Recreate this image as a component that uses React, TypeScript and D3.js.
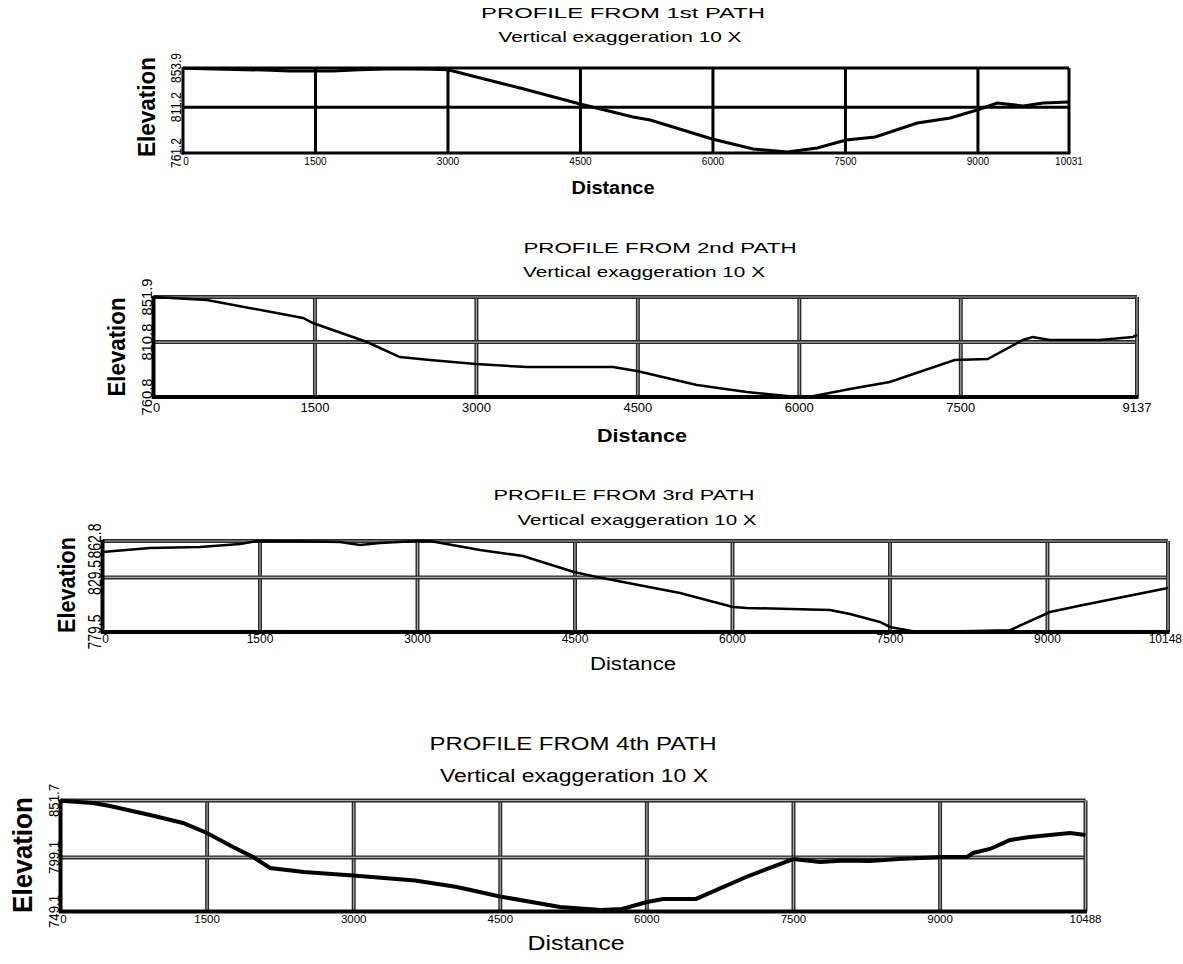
import * as d3 from "d3";

// ---- data ----
const pathTitles = [
  "PROFILE FROM 1st PATH",
  "PROFILE FROM 2nd PATH",
  "PROFILE FROM 3rd PATH",
  "PROFILE FROM 4th PATH",
];
const subTitle = "Vertical exaggeration 10 X";
const xAxisLabel = "Distance";
const yAxisLabel = "Elevation";

const dist1 = [0, 1000, 1200, 1700, 2000, 2400, 2800, 3000, 3590, 3817, 4496, 5096, 5289, 5991, 6455, 6840, 7180, 7508, 7837, 8313, 8686, 8992, 9219, 9513, 9740, 10031];
const elev1 = [853.5, 851.5, 850.5, 850.5, 852, 853, 852.5, 852.0, 837.5, 832.1, 814.6, 800.5, 797.2, 776.5, 765.6, 762.3, 766.7, 775.4, 778.6, 793.9, 799.4, 808.1, 815.7, 812.5, 815.7, 816.8];
const xTicks1 = [0, 1500, 3000, 4500, 6000, 7500, 9000, 10031];
const yTicks1 = [761.2, 811.2, 853.9];

const dist2 = [0, 497, 1389, 1481, 1983, 2289, 2568, 2995, 3469, 4268, 4491, 5048, 5512, 5977, 6125, 6469, 6840, 7443, 7750, 8075, 8168, 8326, 8791, 9098, 9137];
const elev2 = [851.9, 849.2, 832.8, 828.2, 810.9, 797.2, 794.5, 790.9, 788.1, 788.1, 784.5, 771.7, 765.4, 760.8, 761.5, 768.1, 774.5, 794.5, 795.4, 812.7, 815.5, 812.7, 812.7, 815.5, 817.3];
const xTicks2 = [0, 1500, 3000, 4500, 6000, 7500, 9137];
const yTicks2 = [760.8, 810.8, 851.9];

const dist3 = [0, 452, 929, 1310, 1471, 1881, 2262, 2452, 2643, 2995, 3119, 3595, 4005, 4490, 4710, 5500, 6005, 6138, 6929, 7119, 7405, 7500, 7719, 8167, 8643, 9024, 9338, 10148];
const elev3 = [852.7, 856.4, 857.3, 860.1, 862.8, 862.5, 861.9, 859.1, 861.0, 862.8, 862.8, 854.6, 849.1, 834.4, 829.8, 815.2, 802.4, 801.5, 799.6, 796.0, 788.7, 784.1, 780.2, 780.2, 781.2, 797.8, 804.2, 819.8];
const xTicks3 = [0, 1500, 3000, 4500, 6000, 7500, 9000, 10148];
const yTicks3 = [779.5, 829.5, 862.8];

const dist4 = [0, 333, 506, 916, 1253, 1499, 1765, 1970, 2144, 2490, 2993, 3627, 4057, 4497, 5111, 5531, 5745, 6001, 6165, 6503, 7015, 7496, 7771, 8027, 8283, 8570, 9020, 9276, 9337, 9511, 9716, 9920, 10125, 10330, 10488];
const elev4 = [851.5, 849.4, 846.6, 838.3, 830.9, 821.7, 808.7, 799.5, 789.3, 785.6, 782.4, 777.8, 771.7, 763.0, 753.3, 750.5, 751.4, 757.9, 760.7, 760.7, 781.0, 797.6, 794.9, 796.2, 795.8, 797.6, 799.5, 799.5, 803.2, 806.9, 815.2, 818.0, 819.8, 821.7, 819.8];
const xTicks4 = [0, 1500, 3000, 4500, 6000, 7500, 9000, 10488];
const yTicks4 = [749.1, 799.1, 851.7];

// ---- layout of each panel (pixels) ----
const W = 1183;
const H = 964;
const panels = [
  {
    dist: dist1, elev: elev1, xTicks: xTicks1, yTicks: yTicks1, title: pathTitles[0],
    left: 183, right: 1069, top: 68, bottom: 153,
    frame: "solid", frameW: 3, lineW: 3,
    titleAt: [623, 18, 284, 15], subAt: [620, 42, 243, 15],
    distAt: [613, 194, 83, 18, true], elevAt: [155, 107, 100, 24],
    xFont: 10, xBase: 12, yFont: 14, yLen: 30,
  },
  {
    dist: dist2, elev: elev2, xTicks: xTicks2, yTicks: yTicks2, title: pathTitles[1],
    left: 153.5, right: 1137, top: 297, bottom: 397,
    frame: "double", frameW: 4, lineW: 2.5,
    titleAt: [660, 253, 273, 15], subAt: [644, 277, 242, 15],
    distAt: [642, 442, 90, 19, true], elevAt: [125, 347, 99, 24],
    xFont: 13, xBase: 15, yFont: 14, yLen: 37,
  },
  {
    dist: dist3, elev: elev3, xTicks: xTicks3, yTicks: yTicks3, title: pathTitles[2],
    left: 102.5, right: 1168, top: 541, bottom: 632,
    frame: "double", frameW: 4, lineW: 2.5,
    titleAt: [624, 500, 261, 15], subAt: [637, 525, 239, 15],
    distAt: [633, 670, 86, 18, false], elevAt: [75, 585, 96, 24],
    xFont: 12, xBase: 11, yFont: 18, yLen: 35,
  },
  {
    dist: dist4, elev: elev4, xTicks: xTicks4, yTicks: yTicks4, title: pathTitles[3],
    left: 60.5, right: 1085.5, top: 800.5, bottom: 911.5,
    frame: "double", frameW: 4, lineW: 4,
    titleAt: [573, 750, 287, 18], subAt: [574, 782, 268, 18],
    distAt: [576, 950, 97, 21, false], elevAt: [32, 855, 116, 28],
    xFont: 11.5, xBase: 11.5, yFont: 15, yLen: 33,
  },
];

const FONT = "'Liberation Sans', Arial, sans-serif";

const FrameLine = ({ x1, y1, x2, y2, kind, w }) => {
  if (kind === "solid") {
    return <line x1={x1} y1={y1} x2={x2} y2={y2} stroke="#000" strokeWidth={w} />;
  }
  return (
    <g>
      <line x1={x1} y1={y1} x2={x2} y2={y2} stroke="#2a2a2a" strokeWidth={w} />
      <line x1={x1} y1={y1} x2={x2} y2={y2} stroke="#a8a8a8" strokeWidth={1.2} />
    </g>
  );
};

const Profile = ({ p }) => {
  const xMax = p.xTicks[p.xTicks.length - 1];
  const x = d3.scaleLinear().domain([0, xMax]).range([p.left, p.right]);
  const y = d3.scaleLinear().domain([p.yTicks[0], p.yTicks[p.yTicks.length - 1]]).range([p.bottom, p.top]);
  const pts = p.dist.map((d, i) => [d, p.elev[i]]);
  const line = d3.line().x((d) => x(d[0])).y((d) => y(d[1]));

  const innerX = p.xTicks.slice(1, -1);
  const innerY = p.yTicks.slice(1, -1);
  const [tx, ty, tl, tf] = p.titleAt;
  const [sx, sy, sl, sf] = p.subAt;
  const [dx, dy, dl, df, dBold] = p.distAt;
  const [ex, ey, el, ef] = p.elevAt;

  // keep the last distance label inside the picture
  const xLabel = (t, i) => {
    const half = (String(t).length * p.xFont * 0.556) / 2;
    let px = x(t) + (i === 0 ? 3 : 0);
    if (px + half > W - 1) px = W - 1 - half;
    return px;
  };

  return (
    <g>
      <text x={tx} y={ty} textAnchor="middle" fontSize={tf} textLength={tl} lengthAdjust="spacingAndGlyphs">{p.title}</text>
      <text x={sx} y={sy} textAnchor="middle" fontSize={sf} textLength={sl} lengthAdjust="spacingAndGlyphs">{subTitle}</text>

      {/* grid */}
      {innerX.map((t) => (
        <FrameLine key={"gx" + t} x1={x(t)} y1={p.top} x2={x(t)} y2={p.bottom} kind={p.frame} w={p.frameW} />
      ))}
      {innerY.map((t) => (
        <FrameLine key={"gy" + t} x1={p.left} y1={y(t)} x2={p.right} y2={y(t)} kind={p.frame} w={p.frameW} />
      ))}
      {/* frame: top and right like the grid, left and bottom solid */}
      <FrameLine x1={p.left} y1={p.top} x2={p.right} y2={p.top} kind={p.frame} w={p.frameW} />
      <FrameLine x1={p.right} y1={p.top} x2={p.right} y2={p.bottom} kind={p.frame} w={p.frameW} />

      <path d={line(pts)} fill="none" stroke="#000" strokeWidth={p.lineW} strokeLinejoin="miter" />

      <line x1={p.left} y1={p.top - 1} x2={p.left} y2={p.bottom + 1.5} stroke="#000" strokeWidth={p.frameW} />
      <line x1={p.left - 1.5} y1={p.bottom} x2={p.right + 1.5} y2={p.bottom} stroke="#000" strokeWidth={p.frameW} />

      {/* x tick labels */}
      {p.xTicks.map((t, i) => (
        <text key={"xl" + t} x={xLabel(t, i)} y={p.bottom + p.xBase} textAnchor="middle" fontSize={p.xFont}>
          {t}
        </text>
      ))}
      {/* y tick labels */}
      {p.yTicks.map((t) => (
        <text
          key={"yl" + t}
          transform={`translate(${p.left - 2},${y(t)}) rotate(-90)`}
          textAnchor="middle"
          fontSize={p.yFont}
          textLength={p.yLen}
          lengthAdjust="spacingAndGlyphs"
        >
          {t.toFixed(1)}
        </text>
      ))}

      <text x={dx} y={dy} textAnchor="middle" fontSize={df} fontWeight={dBold ? "bold" : "normal"} textLength={dl} lengthAdjust="spacingAndGlyphs">
        {xAxisLabel}
      </text>
      <text transform={`translate(${ex},${ey}) rotate(-90)`} textAnchor="middle" fontSize={ef} fontWeight="bold" textLength={el} lengthAdjust="spacingAndGlyphs">
        {yAxisLabel}
      </text>
    </g>
  );
};

export default function App() {
  return (
    <svg
      width={W}
      height={H}
      style={{ position: "absolute", left: 0, top: 0, background: "#fff", fontFamily: FONT }}
    >
      <rect width={W} height={H} fill="#fff" />
      {panels.map((p, i) => (
        <Profile key={i} p={p} />
      ))}
    </svg>
  );
}
